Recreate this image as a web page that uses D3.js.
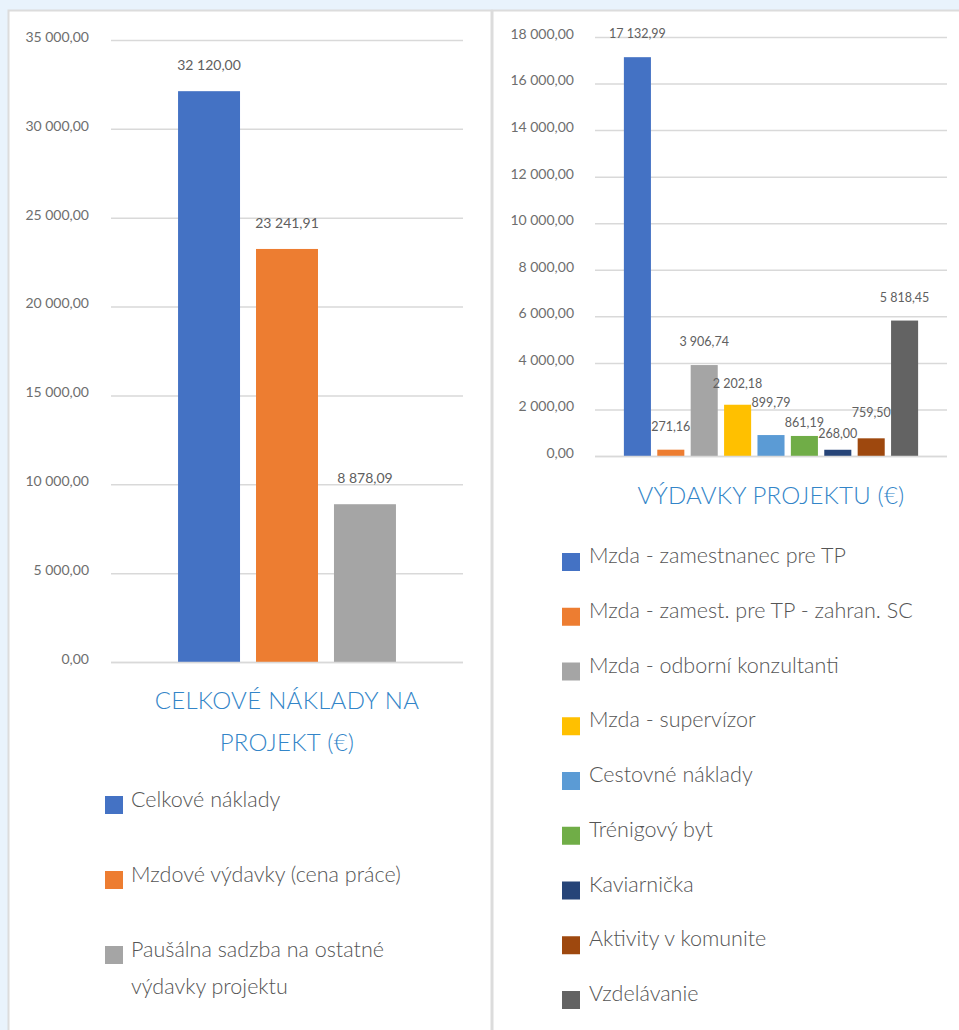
<!DOCTYPE html>
<html><head><meta charset="utf-8">
<script src="https://cdn.jsdelivr.net/npm/d3@7"></script>
<style>
html,body{margin:0;padding:0;background:#e9f3fc;}
svg{display:block;font-family:Lato,"Open Sans",sans-serif;}
</style></head><body>
<svg id="c" width="959" height="1030"></svg>
<script>
// ---- data ----
const leftCategories = ["Celkové náklady","Mzdové výdavky (cena práce)","Paušálna sadzba na ostatné výdavky projektu"];
const leftValues = [32120.00, 23241.91, 8878.09];
const leftTicks = [0,5000,10000,15000,20000,25000,30000,35000];
const leftTitle = ["CELKOVÉ NÁKLADY NA","PROJEKT (€)"];

const rightCategories = ["Mzda - zamestnanec pre TP","Mzda - zamest. pre TP - zahran. SC","Mzda - odborní konzultanti","Mzda - supervízor","Cestovné náklady","Trénigový byt","Kaviarnička","Aktivity v komunite","Vzdelávanie"];
const rightValues = [17132.99, 271.16, 3906.74, 2202.18, 899.79, 861.19, 268.00, 759.50, 5818.45];
const rightTicks = [0,2000,4000,6000,8000,10000,12000,14000,16000,18000];
const rightTitle = "VÝDAVKY PROJEKTU (€)";

const palette = ["#4472C4","#ED7D31","#A5A5A5","#FFC000","#5B9BD5","#70AD47","#264478","#9E480E","#636363"];
// manual label nudges (px) as in the original
const rightLabelNudge = [0,0,0,2,-9,10,7,-2,0];

const loc = d3.formatLocale({decimal:",",thousands:" ",grouping:[3],currency:["","€"]});
const fmt = loc.format(",.2f");

const svg = d3.select("#c");
// panels
svg.append("rect").attr("x",8.5).attr("y",10.5).attr("width",483).attr("height",1030).attr("fill","#fff").attr("stroke","#dcdcdc").attr("stroke-width",2);
svg.append("rect").attr("x",492.5).attr("y",10.5).attr("width",480).attr("height",1030).attr("fill","#fff").attr("stroke","#dcdcdc").attr("stroke-width",2);

const tickColor="#6e6e6e", labelColor="#606060", gridColor="#d9d9d9", titleColor="#3385c8", legendColor="#555";

function chart(opts){
  const y = d3.scaleLinear().domain([0,opts.max]).range([opts.y0,opts.y1]);
  const x = d3.scaleBand().domain(opts.cats).range([opts.x0,opts.x1]).paddingInner(opts.pi).paddingOuter(opts.po);
  const g = svg.append("g");
  const ax = d3.axisLeft(y).tickValues(opts.ticks).tickSize(-(opts.x1-opts.x0)).tickPadding(opts.tickPad).tickFormat(fmt);
  const ag = g.append("g").attr("transform",`translate(${opts.x0},0)`).call(ax);
  ag.select(".domain").remove();
  ag.selectAll(".tick line").attr("stroke",gridColor).attr("stroke-width",1.5);
  ag.selectAll(".tick text").attr("fill",tickColor).attr("font-size",14).attr("font-family","Lato,sans-serif").attr("dy","0.1em");
  g.selectAll("rect.bar").data(opts.vals).join("rect").attr("class","bar")
    .attr("x",(d,i)=>x(opts.cats[i])).attr("width",x.bandwidth())
    .attr("y",d=>y(d)).attr("height",d=>opts.y0-y(d))
    .attr("fill",(d,i)=>palette[i]);
  g.append("line").attr("x1",opts.x0).attr("x2",opts.x1).attr("y1",opts.y0+0.5).attr("y2",opts.y0+0.5).attr("stroke",gridColor).attr("stroke-width",1.5);
  g.selectAll("text.val").data(opts.vals).join("text").attr("class","val")
    .attr("x",(d,i)=>x(opts.cats[i])+x.bandwidth()/2)
    .attr("y",(d,i)=>y(d)-opts.labOff+(opts.nudge?opts.nudge[i]:0))
    .attr("text-anchor","middle").attr("font-size",opts.labSize).attr("fill",labelColor)
    .text(d=>fmt(d));
  return {x,y};
}

chart({cats:leftCategories,vals:leftValues,ticks:leftTicks,max:35000,y0:662,y1:40,x0:111,x1:463,pi:0.205,po:0.86,tickPad:22,labOff:21,labSize:14});
chart({cats:rightCategories,vals:rightValues,ticks:rightTicks,max:18000,y0:456,y1:37,x0:595,x1:947,pi:0.19,po:0.865,tickPad:21,labOff:19,labSize:12.5,nudge:rightLabelNudge});

// titles
svg.selectAll("text.lt").data(leftTitle).join("text").attr("class","lt")
  .attr("x",287).attr("y",(d,i)=>709+i*42).attr("text-anchor","middle")
  .attr("font-size",24).attr("font-weight",300).attr("fill",titleColor).attr("letter-spacing",0.3).text(d=>d);
svg.append("text").attr("x",771).attr("y",504).attr("text-anchor","middle")
  .attr("font-size",24).attr("font-weight",300).attr("fill",titleColor).attr("letter-spacing",0.2).text(rightTitle);

// left legend
const leftLegendLines = [["Celkové náklady"],["Mzdové výdavky (cena práce)"],["Paušálna sadzba na ostatné","výdavky projektu"]];
const llg = svg.append("g");
leftCategories.forEach((c,i)=>{
  const top = 796 + i*75;
  llg.append("rect").attr("x",105).attr("y",top).attr("width",18).attr("height",18).attr("fill",palette[i]);
  leftLegendLines[i].forEach((ln,j)=>{
    llg.append("text").attr("x",131).attr("y",top+11+j*37).attr("font-size",21.5).attr("font-weight",300).attr("fill",legendColor).text(ln);
  });
});
// right legend
const rlg = svg.append("g");
rightCategories.forEach((c,i)=>{
  const top = 553 + i*54.75;
  rlg.append("rect").attr("x",562).attr("y",top).attr("width",18).attr("height",18).attr("fill",palette[i]);
  rlg.append("text").attr("x",589).attr("y",top+10).attr("font-size",21.5).attr("font-weight",300).attr("fill",legendColor).text(c);
});
</script>
</body></html>
